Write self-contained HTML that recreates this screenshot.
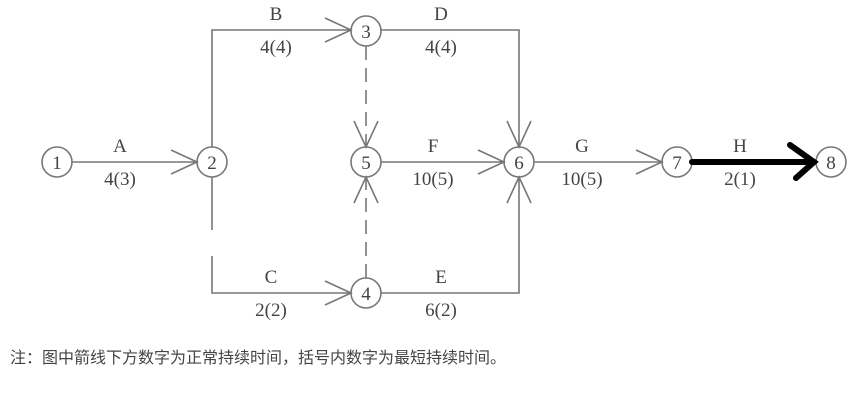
<!DOCTYPE html>
<html><head><style>
body{margin:0;background:#fff;width:862px;height:404px;overflow:hidden}
text{font-family:"Liberation Serif","Noto Serif CJK SC",serif;fill:#444}
</style></head><body>
<svg width="862" height="404" viewBox="0 0 862 404">
<g stroke="#777" stroke-width="1.6" fill="none">
<circle cx="57" cy="162" r="15"/><circle cx="212" cy="162" r="15"/>
<circle cx="366" cy="31" r="15"/><circle cx="366" cy="162" r="15"/>
<circle cx="366" cy="293" r="15"/><circle cx="519" cy="162" r="15"/>
<circle cx="677" cy="162" r="15"/><circle cx="831" cy="162" r="15"/>
<path d="M72 162H197M171 150L197 162L171 174"/>
<path d="M212 147V30H351M325 18L351 30L325 42"/>
<path d="M381 30H519V147M507 121L519 147L531 121"/>
<path d="M381 162H504M478 150L504 162L478 174"/>
<path d="M534 162H662M636 150L662 162L636 174"/>
<path d="M212 177V230M212 256V293H351M325 281L351 293L325 305"/>
<path d="M381 293H519V177M507 203L519 177L531 203"/>
<path d="M366 46V147" stroke-dasharray="14,8"/>
<path d="M354 121L366 147L378 121"/>
<path d="M366 278V177" stroke-dasharray="14,8"/>
<path d="M354 203L366 177L378 203"/>
</g>
<path d="M692 162H812M790 145L814 162L796 178" stroke="#000" stroke-width="6" fill="none" stroke-linecap="round"/>
<g font-size="19" text-anchor="middle">
<text x="57" y="169">1</text><text x="212" y="169">2</text><text x="366" y="38">3</text>
<text x="366" y="169">5</text><text x="366" y="300">4</text><text x="519" y="169">6</text>
<text x="677" y="169">7</text><text x="831" y="169">8</text>
<text x="120" y="152">A</text><text x="120" y="185">4(3)</text>
<text x="276" y="20">B</text><text x="276" y="53">4(4)</text>
<text x="441" y="20">D</text><text x="441" y="53">4(4)</text>
<text x="433" y="152">F</text><text x="433" y="185">10(5)</text>
<text x="582" y="152">G</text><text x="582" y="185">10(5)</text>
<text x="740" y="152">H</text><text x="740" y="185">2(1)</text>
<text x="271" y="283">C</text><text x="271" y="316">2(2)</text>
<text x="441" y="283">E</text><text x="441" y="316">6(2)</text>
</g>
<text x="10" y="363" font-size="16" style="font-family:'Noto Sans CJK SC',sans-serif" fill="#222">注：图中箭线下方数字为正常持续时间，括号内数字为最短持续时间。</text>
</svg>
</body></html>
